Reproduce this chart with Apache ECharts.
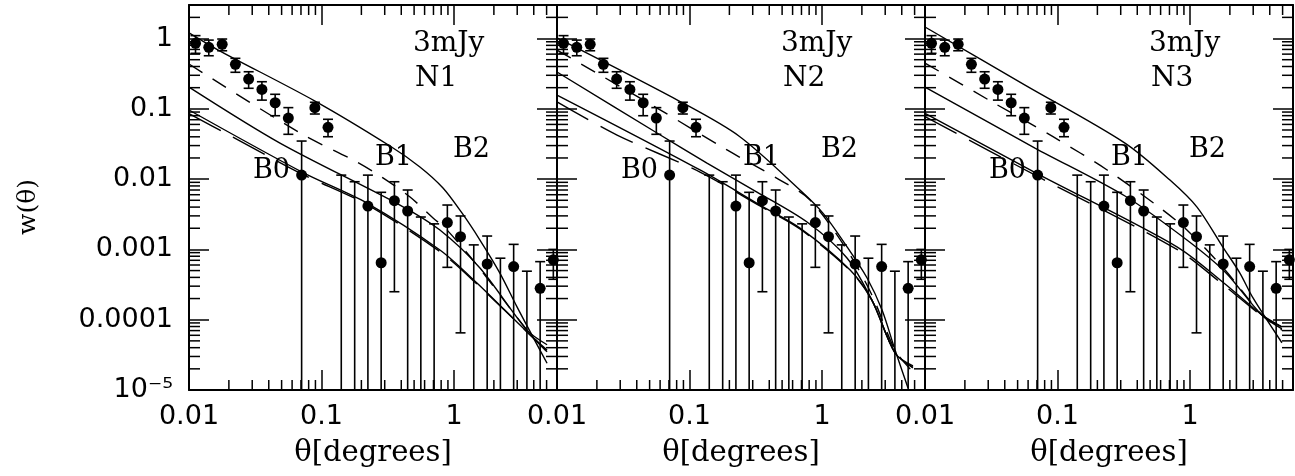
<!DOCTYPE html>
<html>
<head>
<meta charset="utf-8">
<script src="https://cdn.jsdelivr.net/npm/echarts@6/dist/echarts.min.js"></script>
<style>
html,body{margin:0;padding:0;background:#fff;}
#chart{width:1295px;height:476px;}
</style>
</head>
<body>
<div id="chart"></div>
<script>
// ---------- data ----------
const panelNames = ['N1', 'N2', 'N3'];
const fluxLabel = '3mJy';
const xTickLabels = ['0.01', '0.1', '1'];
const yTickLabels = ['10⁻⁵', '0.0001', '0.001', '0.01', '0.1', '1'];

// measured w(theta) (same in every panel); null = negative value (no dot)
const theta = [0.0112,0.0141,0.0178,0.0224,0.0282,0.0355,0.0447,0.0562,0.0708,0.0891,0.112,0.141,0.178,0.224,0.282,0.355,0.447,0.562,0.708,0.891,1.12,1.41,1.78,2.24,2.82,3.55,4.47,5.62];
const wObs  = [0.855,0.75,0.827,0.43,0.265,0.189,0.122,0.074,0.0114,0.104,0.0546,null,null,0.00414,0.000646,0.00493,0.00352,null,null,0.00241,0.00152,null,0.00062,null,0.00057,null,0.00028,0.00071];
const errHi = [1.10,0.95,0.984,0.523,0.337,0.243,0.161,0.104,0.0348,0.124,0.071,0.0114,0.00918,0.0114,0.00649,0.00918,0.0070,0.00289,0.00231,0.00428,0.00299,0.00116,0.00155,0.00075,0.00118,0.00049,0.00067,0.001];
// null = lower end below the plot
const errLo = [0.616,0.569,0.670,0.331,0.196,0.133,0.0798,0.0434,null,0.0844,0.0401,null,null,null,null,0.00025,null,null,null,0.000556,0.000065,null,null,null,null,null,null,0.000376];

// model curves, panel N1
const n1_B2 = [[0.01,1.20],[0.0166,0.686],[0.0893,0.129],[0.329,0.0296],[0.553,0.0149],[0.826,0.00748],[1.148,0.0033],[1.57,0.00136],[2.22,0.000461],[2.99,0.000152],[3.94,5.7e-5],[5.04,2.4e-5]];
const n1_B1d = [[0.01,0.434],[0.0689,0.0453],[0.185,0.0175],[0.291,0.0104],[0.466,0.00556],[0.695,0.0028],[0.885,0.00189],[1.49,0.0006],[3.56,7.1e-5],[5.04,3.5e-5]];
const n1_B1 = [[0.01,0.204],[0.0486,0.0326],[0.391,0.00428],[0.783,0.00189],[1.57,0.000543],[3.56,7.1e-5],[5.04,4.4e-5]];
const n1_B0 = [[0.01,0.0962],[0.0713,0.0126],[0.22,0.00457],[0.783,0.00098],[1.49,0.000333],[3.56,6.7e-5],[5.04,3.7e-5]];
const n1_B0d = [[0.01,0.0857],[0.0204,0.0417],[0.0713,0.0118],[0.22,0.00435],[0.783,0.00093],[1.49,0.000322],[3.56,6.7e-5],[5.04,3.5e-5]];

// model curves, panel N2
const n2_B2 = [[0.01,1.02],[0.0898,0.12],[0.24,0.0401],[0.682,0.007],[1.02,0.00326],[1.55,0.00108],[2.19,0.000392],[2.84,0.000137],[3.56,3.7e-5],[4.46,1.07e-5]];
const n2_B1d = [[0.01,0.686],[0.0569,0.1026],[0.192,0.026],[0.482,0.0097],[0.812,0.00505],[1.544,0.00098],[2.38,0.000225],[3.56,3.7e-5],[4.86,1.8e-5]];
const n2_B1 = [[0.01,0.334],[0.0569,0.0453],[0.1355,0.0169],[0.323,0.00655],[0.771,0.00245],[1.544,0.000755],[2.38,0.00019],[3.56,3.36e-5],[4.86,2.06e-5]];
const n2_B0 = [[0.01,0.157],[0.12,0.0135],[0.34,0.00428],[0.682,0.00201],[1.63,0.00051],[2.38,0.00019],[3.56,3.36e-5],[4.86,2.2e-5]];
const n2_B0d = [[0.01,0.126],[0.0284,0.0424],[0.12,0.0126],[0.34,0.00415],[0.682,0.00195],[1.63,0.0005],[2.38,0.00019],[3.56,3.36e-5],[4.86,2.1e-5]];

// model curves, panel N3
const n3_B2 = [[0.01,1.46],[0.0569,0.218],[0.323,0.0326],[0.706,0.0097],[1.13,0.004],[1.77,0.00108],[2.38,0.000461],[2.99,0.000204],[4.94,4.7e-5]];
const n3_B1d = [[0.01,0.448],[0.0304,0.133],[0.0925,0.0401],[0.237,0.0135],[0.625,0.00363],[0.948,0.00189],[1.84,0.00051],[3.49,0.000117],[4.94,7.1e-5]];
const n3_B1 = [[0.01,0.204],[0.0676,0.0277],[0.323,0.00575],[0.948,0.00136],[1.84,0.000477],[3.49,0.000117],[4.94,7.9e-5]];
const n3_B0 = [[0.01,0.0863],[0.0696,0.0121],[0.797,0.00109],[1.84,0.000322],[3.49,0.000117],[4.94,7.9e-5]];
const n3_B0d = [[0.01,0.0772],[0.0696,0.0111],[0.797,0.001],[1.84,0.0003],[3.49,0.000113],[4.94,7.4e-5]];

const panelCurves = [
  [n1_B2, n1_B1d, n1_B1, n1_B0, n1_B0d],
  [n2_B2, n2_B1d, n2_B1, n2_B0, n2_B0d],
  [n3_B2, n3_B1d, n3_B1, n3_B0, n3_B0d]
];

// ---------- layout / style ----------
const X_MIN = 0.01, X_MAX = 5.99, Y_MIN = 1e-5, Y_MAX = 3;
const PANEL_LEFT = [189, 557, 925], PANEL_W = 368, TOP = 5, H = 385;
const curveStyles = [
  {type: 'solid'}, {type: [16, 12]}, {type: 'solid'}, {type: 'solid'}, {type: [36, 14]}
];
const minorMult = [2,3,4,5,6,7,8,9];
const xMinor = [], yMinor = [];
[-2,-1,0].forEach(e => minorMult.forEach(m => { const v = m*Math.pow(10,e); if (v < X_MAX) xMinor.push(v); }));
[-5,-4,-3,-2,-1,0].forEach(e => minorMult.forEach(m => { const v = m*Math.pow(10,e); if (v <= Y_MAX) yMinor.push(v); }));

function decade(v) {
  const l = Math.log10(v);
  const r = Math.round(l);
  return Math.abs(l - r) < 1e-6 ? r : null;
}
const xLabelFmt = v => { const d = decade(v); return d === null ? '' : (xTickLabels[d + 2] || ''); };
const yLabelFmt = v => { const d = decade(v); return d === null ? '' : (yTickLabels[d + 5] || ''); };

const chart = echarts.init(document.getElementById('chart'), null, {renderer: 'canvas'});
const grids = [], xAxes = [], yAxes = [], series = [], graphics = [];
const axLine = {lineStyle: {color: '#000', width: 2}};
const tickMajor = {inside: true, length: 20, lineStyle: {color: '#000', width: 1.5}};

PANEL_LEFT.forEach((left, g) => {
  grids.push({left: left, top: TOP, width: PANEL_W, height: H, containLabel: false});
  xAxes.push({type: 'log', gridIndex: g, position: 'bottom', min: X_MIN, max: X_MAX, splitNumber: 3,
    axisLine: axLine, axisTick: tickMajor, splitLine: {show: false}, minorTick: {show: false},
    axisLabel: {formatter: xLabelFmt, fontFamily: 'DejaVu Sans', fontSize: 27, color: '#000', margin: 13, showMaxLabel: false}});
  xAxes.push({type: 'log', gridIndex: g, position: 'top', min: X_MIN, max: X_MAX, splitNumber: 3,
    axisLine: axLine, axisTick: tickMajor, splitLine: {show: false}, axisLabel: {show: false}});
  yAxes.push({type: 'log', gridIndex: g, position: 'left', min: Y_MIN, max: Y_MAX, splitNumber: 5,
    axisLine: axLine, axisTick: tickMajor, splitLine: {show: false},
    axisLabel: {show: g === 0, formatter: yLabelFmt, fontFamily: 'DejaVu Sans', fontSize: 27, color: '#000', margin: 16}});
  yAxes.push({type: 'log', gridIndex: g, position: 'right', min: Y_MIN, max: Y_MAX, splitNumber: 5,
    axisLine: axLine, axisTick: tickMajor, splitLine: {show: false}, axisLabel: {show: false}});

  const xi = 2*g, yi = 2*g;
  // model curves
  panelCurves[g].forEach((c, k) => {
    series.push({type: 'line', xAxisIndex: xi, yAxisIndex: yi, data: c, symbol: 'none', smooth: 0.3,
      clip: true, silent: true,
      lineStyle: {color: '#000', width: 1.4, type: curveStyles[k].type}});
  });
  // error bars
  series.push({type: 'custom', xAxisIndex: xi, yAxisIndex: yi, clip: true, silent: true,
    data: theta.map((t, i) => [t, errHi[i], errLo[i] === null ? NaN : errLo[i]]),
    encode: {x: 0, y: 1},
    renderItem: function (params, api) {
      const x = api.value(0), hi = api.value(1), lo = api.value(2);
      const cs = params.coordSys;
      const p = api.coord([x, hi]);
      const hasLo = lo > 0;
      const yb = hasLo ? api.coord([x, lo])[1] : cs.y + cs.height;
      const st = {stroke: '#000', lineWidth: 1.6};
      const ch = [
        {type: 'line', shape: {x1: p[0], y1: p[1], x2: p[0], y2: yb}, style: st},
        {type: 'line', shape: {x1: p[0]-5, y1: p[1], x2: p[0]+5, y2: p[1]}, style: st}
      ];
      if (hasLo) ch.push({type: 'line', shape: {x1: p[0]-5, y1: yb, x2: p[0]+5, y2: yb}, style: st});
      return {type: 'group', children: ch};
    }});
  // points
  series.push({type: 'scatter', xAxisIndex: xi, yAxisIndex: yi, symbol: 'circle', symbolSize: 11, silent: true,
    itemStyle: {color: '#000', opacity: 1}, clip: true,
    data: theta.map((t, i) => [t, wObs[i]]).filter(d => d[1] !== null)});
  // minor ticks on x edges
  series.push({type: 'custom', xAxisIndex: xi, yAxisIndex: yi, silent: true, clip: false,
    data: xMinor.map(v => [v, 1]), encode: {x: 0, y: 1},
    renderItem: function (params, api) {
      const cs = params.coordSys; const px = api.coord([api.value(0), 1])[0];
      const st = {stroke: '#000', lineWidth: 1.5};
      return {type: 'group', children: [
        {type: 'line', shape: {x1: px, y1: cs.y + cs.height, x2: px, y2: cs.y + cs.height - 10}, style: st},
        {type: 'line', shape: {x1: px, y1: cs.y, x2: px, y2: cs.y + 10}, style: st}]};
    }});
  // minor ticks on y edges
  series.push({type: 'custom', xAxisIndex: xi, yAxisIndex: yi, silent: true, clip: false,
    data: yMinor.map(v => [0.1, v]), encode: {x: 0, y: 1},
    renderItem: function (params, api) {
      const cs = params.coordSys; const py = api.coord([0.1, api.value(1)])[1];
      const st = {stroke: '#000', lineWidth: 1.5};
      return {type: 'group', children: [
        {type: 'line', shape: {x1: cs.x, y1: py, x2: cs.x + 11, y2: py}, style: st},
        {type: 'line', shape: {x1: cs.x + cs.width, y1: py, x2: cs.x + cs.width - 11, y2: py}, style: st}]};
    }});

  // text annotations
  const tf = 'DejaVu Serif';
  const txt = (x, y, s, size) => ({type: 'text', x: x, y: y, silent: true,
    style: {text: s, fontFamily: tf, fontSize: size || 27, fill: '#000', align: 'left', verticalAlign: 'middle'}});
  graphics.push(txt(left + 224, 44, fluxLabel, 28));
  graphics.push(txt(left + 226, 79, panelNames[g], 28));
  graphics.push(txt(left + 264, 150, 'B2', 27));
  graphics.push(txt(left + 186, 158, 'B1', 27));
  graphics.push(txt(left + 64, 171, 'B0', 27));
  graphics.push({type: 'text', x: left + PANEL_W/2, y: 453, silent: true,
    style: {text: 'θ[degrees]', fontFamily: tf, fontSize: 29, fill: '#000', align: 'center', verticalAlign: 'middle'}});
});
graphics.push({type: 'text', x: 28, y: 207, rotation: Math.PI/2, silent: true,
  style: {text: 'w(θ)', fontFamily: 'DejaVu Serif', fontSize: 25, fill: '#000', align: 'center', verticalAlign: 'middle'}});

chart.setOption({
  animation: false,
  backgroundColor: '#fff',
  grid: grids, xAxis: xAxes, yAxis: yAxes, series: series, graphic: graphics
});
</script>
</body>
</html>
